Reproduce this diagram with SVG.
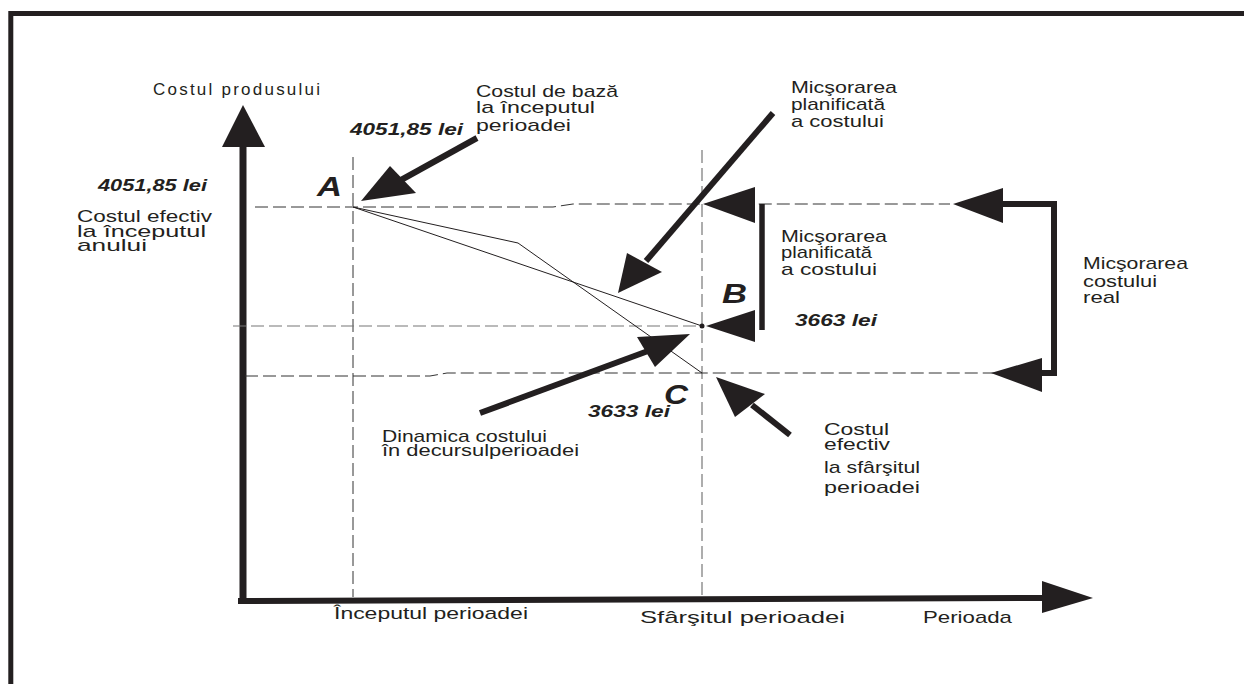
<svg xmlns="http://www.w3.org/2000/svg" width="1244" height="684" viewBox="0 0 1244 684">
<style>
.t{font-family:"Liberation Sans",Arial,sans-serif;font-size:17px;fill:#231f20}
.bi{font-weight:bold;font-style:italic}
.big{font-size:28px}
.dash{fill:none;stroke:#333;stroke-width:1;stroke-dasharray:13 5}
.dashg{fill:none;stroke:#777;stroke-width:1.2;stroke-dasharray:13 5}
.thin{fill:none;stroke:#231f20;stroke-width:1}
.shaft{fill:none;stroke:#231f20;stroke-width:6}
.head{fill:#231f20;stroke:none}
</style>
<rect width="1244" height="684" fill="#fff"/>
<g id="frame">
<path d="M10.8,684 V13.5 H1244" fill="none" stroke="#231f20" stroke-width="5"/>
</g>
<g id="axes">
<line x1="243" y1="145" x2="243" y2="603" stroke="#231f20" stroke-width="7"/>
<polygon class="head" points="243,105 222,147 265,147"/>
<line x1="238" y1="601" x2="1045" y2="598" stroke="#231f20" stroke-width="6"/>
<polygon class="head" points="1093,598 1042,581 1042,613"/>
</g>
<g id="guides">
<line class="dash" x1="353" y1="157" x2="353" y2="597"/>
<line class="dashg" x1="702" y1="150" x2="702" y2="597"/>
<path class="dash" d="M255,207 H553 L573,204 H950"/>
<line class="dashg" x1="233" y1="326" x2="702" y2="326"/>
<path class="dash" d="M245,376 H430 L447,373 H995"/>
</g>
<g id="connectors">
<line class="thin" x1="353" y1="207" x2="702" y2="326"/>
<polyline class="thin" points="353,207 518,243 702,373"/>
<circle cx="702" cy="326" r="2.5" fill="#231f20"/>
<line class="shaft" x1="477" y1="138" x2="401" y2="180"/>
<polygon class="head" points="361,201 390,166 416,193"/>
<line class="shaft" x1="773" y1="113" x2="646" y2="261"/>
<polygon class="head" points="618,293 627,253 662,272"/>
<line class="shaft" x1="480" y1="413" x2="648" y2="351"/>
<polygon class="head" points="690,334 637,337 655,367"/>
<line class="shaft" x1="790" y1="435" x2="752" y2="405"/>
<polygon class="head" points="716,377 765,394 735,417"/>
<polygon class="head" points="703,204 755,187 755,223"/>
<polygon class="head" points="706,326 755,310 755,342"/>
<line x1="762" y1="204" x2="762" y2="330" stroke="#231f20" stroke-width="5.5"/>
<path d="M1000,204 H1054 V373 H1040" fill="none" stroke="#231f20" stroke-width="6"/>
<polygon class="head" points="953,204 1003,188 1003,223"/>
<polygon class="head" points="991,373 1042,358 1042,392"/>
</g>
<g id="label-yaxis">
<text class="t" x="153" y="95" font-size="16" textLength="167" lengthAdjust="spacing">Costul produsului</text>
</g>
<g id="label-left">
<text class="t bi" x="98" y="191" font-size="16" textLength="109" lengthAdjust="spacingAndGlyphs">4051,85 lei</text>
<text class="t" x="77" y="222" font-size="17.5" textLength="135" lengthAdjust="spacingAndGlyphs">Costul efectiv</text>
<text class="t" x="77" y="237" font-size="17.5" textLength="129" lengthAdjust="spacingAndGlyphs">la începutul</text>
<text class="t" x="77" y="251" font-size="17.5" textLength="70" lengthAdjust="spacingAndGlyphs">anului</text>
</g>
<g id="point-A">
<text class="t bi big" x="317" y="196" textLength="25" lengthAdjust="spacingAndGlyphs">A</text>
</g>
<g id="label-base">
<text class="t bi" x="350" y="135" font-size="16" textLength="113" lengthAdjust="spacingAndGlyphs">4051,85 lei</text>
<text class="t" x="476" y="97" textLength="142" lengthAdjust="spacingAndGlyphs">Costul de bază</text>
<text class="t" x="476" y="113" textLength="119" lengthAdjust="spacingAndGlyphs">la începutul</text>
<text class="t" x="476" y="131" textLength="95" lengthAdjust="spacingAndGlyphs">perioadei</text>
</g>
<g id="label-plan-top">
<text class="t" x="791" y="93" textLength="106" lengthAdjust="spacingAndGlyphs">Micşorarea</text>
<text class="t" x="791" y="110" textLength="94" lengthAdjust="spacingAndGlyphs">planificată</text>
<text class="t" x="791" y="127" textLength="93" lengthAdjust="spacingAndGlyphs">a costului</text>
</g>
<g id="label-plan-mid">
<text class="t" x="781" y="242" textLength="106" lengthAdjust="spacingAndGlyphs">Micşorarea</text>
<text class="t" x="781" y="258" textLength="91" lengthAdjust="spacingAndGlyphs">planificată</text>
<text class="t" x="781" y="275" textLength="96" lengthAdjust="spacingAndGlyphs">a costului</text>
<text class="t bi" x="795" y="326" textLength="82" lengthAdjust="spacingAndGlyphs">3663 lei</text>
</g>
<g id="point-B">
<text class="t bi big" x="722" y="303" textLength="25" lengthAdjust="spacingAndGlyphs">B</text>
</g>
<g id="label-real">
<text class="t" x="1083" y="269" textLength="105" lengthAdjust="spacingAndGlyphs">Micşorarea</text>
<text class="t" x="1083" y="287" textLength="74" lengthAdjust="spacingAndGlyphs">costului</text>
<text class="t" x="1083" y="303" textLength="37" lengthAdjust="spacingAndGlyphs">real</text>
</g>
<g id="point-C">
<text class="t bi big" x="664" y="404" textLength="24" lengthAdjust="spacingAndGlyphs">C</text>
<text class="t bi" x="588" y="417" textLength="82" lengthAdjust="spacingAndGlyphs">3633 lei</text>
</g>
<g id="label-dinamica">
<text class="t" x="382" y="442" textLength="165" lengthAdjust="spacingAndGlyphs">Dinamica costului</text>
<text class="t" x="382" y="456" textLength="197" lengthAdjust="spacingAndGlyphs">în decursulperioadei</text>
</g>
<g id="label-end">
<text class="t" x="824" y="435" textLength="65" lengthAdjust="spacingAndGlyphs">Costul</text>
<text class="t" x="824" y="450" textLength="66" lengthAdjust="spacingAndGlyphs">efectiv</text>
<text class="t" x="824" y="473" textLength="96" lengthAdjust="spacingAndGlyphs">la sfârşitul</text>
<text class="t" x="824" y="493" textLength="96" lengthAdjust="spacingAndGlyphs">perioadei</text>
</g>
<g id="label-xaxis">
<text class="t" x="334" y="619" textLength="194" lengthAdjust="spacingAndGlyphs">Începutul perioadei</text>
<text class="t" x="640" y="623" textLength="205" lengthAdjust="spacingAndGlyphs">Sfârşitul perioadei</text>
<text class="t" x="923" y="623" textLength="89" lengthAdjust="spacingAndGlyphs">Perioada</text>
</g>
</svg>
